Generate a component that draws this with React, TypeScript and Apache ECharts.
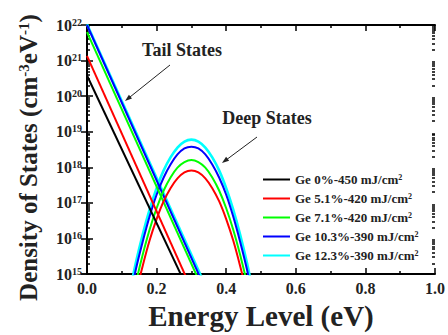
import React, { useEffect, useRef } from "react";
import * as echarts from "echarts";

const seriesNames = [
  "Ge 0%-450 mJ/cm²",
  "Ge 5.1%-420 mJ/cm²",
  "Ge 7.1%-420 mJ/cm²",
  "Ge 10.3%-390 mJ/cm²",
  "Ge 12.3%-390 mJ/cm²",
];
const seriesColors = ["#000000", "#ff0000", "#00ff00", "#0000ff", "#00ffff"];

// Tail states: straight lines on the log axis (energy eV, density)
const tailBlack = [[0, 3.8e20], [0.30, 2.3e14]];
const tailRed = [[0, 1.35e21], [0.32, 1.4e14]];
const tailGreen = [[0, 6.3e21], [0.35, 1.6e14]];
const tailBlue = [[0, 1.0e22], [0.35, 2.3e14]];
const tailCyan = [[0, 1.05e22], [0.35, 2.9e14]];

// Deep states (Gaussian bumps around 0.3 eV)
const deepEnergy = [0.12, 0.14, 0.16, 0.18, 0.2, 0.22, 0.24, 0.26, 0.28, 0.3, 0.32, 0.34, 0.36, 0.38, 0.4, 0.42, 0.44, 0.46, 0.48];
const deepRed = [3.2e13, 2.7e14, 1.7e15, 8.9e15, 3.5e16, 1.1e17, 2.6e17, 4.9e17, 7.2e17, 8.1e17, 7.2e17, 4.9e17, 2.6e17, 1.1e17, 3.5e16, 8.9e15, 1.7e15, 2.7e14, 3.2e13];
const deepGreen = [6.3e13, 5.4e14, 3.5e15, 1.8e16, 7.1e16, 2.2e17, 5.2e17, 9.8e17, 1.4e18, 1.6e18, 1.4e18, 9.8e17, 5.2e17, 2.2e17, 7.1e16, 1.8e16, 3.5e15, 5.4e14, 6.3e13];
const deepBlue = [1.5e14, 1.3e15, 8.1e15, 4.2e16, 1.7e17, 5.1e17, 1.2e18, 2.3e18, 3.4e18, 3.8e18, 3.4e18, 2.3e18, 1.2e18, 5.1e17, 1.7e17, 4.2e16, 8.1e15, 1.3e15, 1.5e14];
const deepCyan = [2.3e14, 2.0e15, 1.3e16, 6.6e16, 2.6e17, 8.1e17, 1.9e18, 3.6e18, 5.3e18, 6.0e18, 5.3e18, 3.6e18, 1.9e18, 8.1e17, 2.6e17, 6.6e16, 1.3e16, 2.0e15, 2.3e14];

const xTicks = { min: 0, max: 1, interval: 0.2 };
const yRange = { min: 1e15, max: 1e22 };

const FONT = "Liberation Serif";
const TXT = "#222";

// minor tick positions (2..9 × 10^n) expressed as log10 values for a linear helper axis
function minorLogTicks(min: number, max: number) {
  const out: number[] = [];
  for (let e = Math.log10(min); e < Math.log10(max); e++) {
    for (let m = 2; m <= 9; m++) out.push(e + Math.log10(m));
  }
  return out;
}

export default function App() {
  const ref = useRef<HTMLDivElement>(null);
  useEffect(() => {
    if (!ref.current) return;
    const chart = echarts.init(ref.current, null, { renderer: "svg" });
    const tails = [tailBlack, tailRed, tailGreen, tailBlue, tailCyan];
    const deeps: (number[] | null)[] = [null, deepRed, deepGreen, deepBlue, deepCyan];
    const series: any[] = [];
    for (let i = 4; i >= 0; i--) {
      const w = i === 4 ? 2.6 : 2;
      series.push({
        name: seriesNames[i],
        type: "line",
        data: tails[i],
        showSymbol: false,
        lineStyle: { color: seriesColors[i], width: w },
        itemStyle: { color: seriesColors[i] },
        clip: true,
      });
      const d = deeps[i];
      if (d) {
        series.push({
          name: seriesNames[i],
          type: "line",
          data: deepEnergy.map((e, k) => [e, d[k]]),
          showSymbol: false,
          smooth: 0.3,
          lineStyle: { color: seriesColors[i], width: w },
          itemStyle: { color: seriesColors[i] },
          clip: true,
        });
      }
    }
    const axisLine = { show: true, lineStyle: { color: "#000", width: 2 } };
    const tickStyle = { color: "#000", width: 1.5 };
    const yBase = { type: "log", logBase: 10, min: yRange.min, max: yRange.max, splitLine: { show: false }, axisLine };
    const lo = Math.log10(yRange.min);
    const hi = Math.log10(yRange.max);
    const minors = minorLogTicks(yRange.min, yRange.max);
    const minorAxis = (pos: string) => ({
      type: "value",
      min: lo,
      max: hi,
      position: pos,
      splitLine: { show: false },
      axisLine: { show: false },
      axisTick: { show: true, inside: true, length: 3, lineStyle: tickStyle, customValues: minors },
      axisLabel: { show: false },
    });
    const xBase = {
      type: "value",
      min: xTicks.min,
      max: xTicks.max,
      interval: xTicks.interval,
      splitLine: { show: false },
      axisLine,
      axisTick: { inside: true, length: 6, lineStyle: tickStyle },
      minorTick: { show: true, splitNumber: 2, length: 3, lineStyle: tickStyle },
    };
    chart.setOption({
      animation: false,
      backgroundColor: "#fff",
      grid: { left: 87, right: 10, top: 25, bottom: 53, containLabel: false },
      xAxis: [
        {
          ...xBase,
          position: "bottom",
          name: "Energy Level (eV)",
          nameLocation: "middle",
          nameGap: 26,
          nameTextStyle: { fontFamily: FONT, fontWeight: "bold", fontSize: 29, color: TXT, verticalAlign: "top" },
          axisLabel: {
            margin: 6,
            fontFamily: FONT,
            fontWeight: "bold",
            fontSize: 16,
            color: TXT,
            formatter: (v: number) => v.toFixed(1),
          },
        },
        { ...xBase, position: "top", axisLabel: { show: false } },
      ],
      yAxis: [
        {
          ...yBase,
          position: "left",
          axisTick: { inside: true, length: 6, lineStyle: tickStyle },
          axisLabel: {
            margin: 5,
            fontFamily: FONT,
            fontWeight: "bold",
            color: TXT,
            formatter: (v: number) => `{b|10}{s|${Math.round(Math.log10(v))}}`,
            rich: {
              b: { fontFamily: FONT, fontWeight: "bold", fontSize: 16, color: TXT, lineHeight: 16 },
              s: { fontFamily: FONT, fontWeight: "bold", fontSize: 10, color: TXT, verticalAlign: "top", lineHeight: 10 },
            },
          },
          name: "Density of States (cm{s|-3}eV{s|-1})",
          nameLocation: "middle",
          nameRotate: 90,
          nameGap: 46,
          nameTextStyle: {
            fontFamily: FONT,
            fontWeight: "bold",
            fontSize: 25,
            color: TXT,
            padding: [0, 16, 0, 0],
            rich: {
              s: { fontFamily: FONT, fontWeight: "bold", fontSize: 15, color: TXT, verticalAlign: "top", lineHeight: 14 },
            },
          },
        },
        {
          ...yBase,
          position: "right",
          axisTick: { inside: true, length: 6, lineStyle: tickStyle },
          axisLabel: { show: false },
        },
        minorAxis("left"),
        minorAxis("right"),
      ],
      legend: {
        data: seriesNames,
        orient: "vertical",
        left: 258,
        top: 168,
        itemWidth: 27,
        itemHeight: 2,
        icon: "rect",
        itemGap: 6,
        formatter: (n: string) => n.replace("²", "{s|2}"),
        textStyle: {
          fontFamily: FONT,
          fontWeight: "bold",
          fontSize: 13,
          color: TXT,
          rich: {
            s: { fontFamily: FONT, fontWeight: "bold", fontSize: 8, color: TXT, verticalAlign: "top", lineHeight: 8 },
          },
        },
      },
      graphic: [
        {
          type: "text",
          x: 182,
          y: 50,
          style: { text: "Tail States", fontFamily: FONT, fontWeight: "bold", fontSize: 18, fill: TXT, align: "center", verticalAlign: "middle" },
        },
        { type: "line", shape: { x1: 170, y1: 65, x2: 128, y2: 98.6 }, style: { stroke: "#222", lineWidth: 1 } },
        { type: "polygon", shape: { points: [[125, 101], [132, 98.6], [128.9, 94.7]] }, style: { fill: "#222" } },
        {
          type: "text",
          x: 267,
          y: 118,
          style: { text: "Deep States", fontFamily: FONT, fontWeight: "bold", fontSize: 18, fill: TXT, align: "center", verticalAlign: "middle" },
        },
        { type: "line", shape: { x1: 257, y1: 137, x2: 225, y2: 160.8 }, style: { stroke: "#222", lineWidth: 1 } },
        { type: "polygon", shape: { points: [[222, 163], [229.1, 160.8], [226.1, 156.8]] }, style: { fill: "#222" } },
      ],
      series,
    });
    return () => chart.dispose();
  }, []);
  return <div ref={ref} style={{ width: 448, height: 335, position: "absolute", left: 0, top: 0 }} />;
}
